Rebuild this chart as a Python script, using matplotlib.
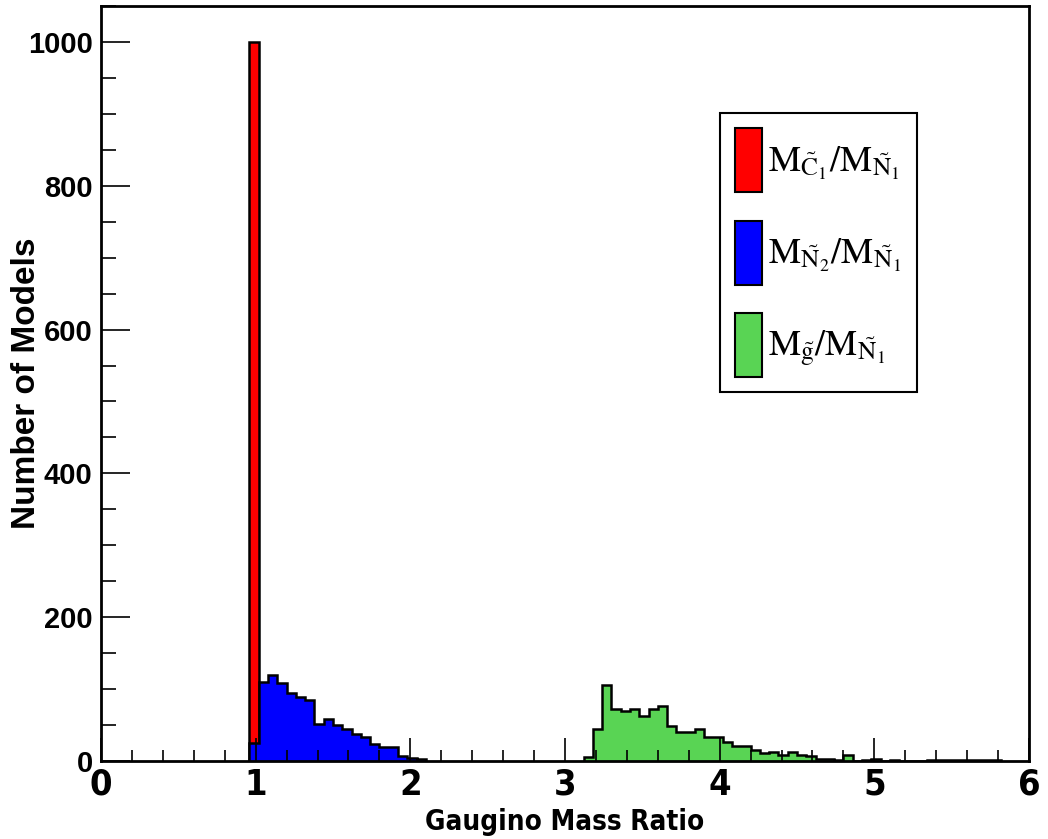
# Gaugino mass ratio histograms (ROOT style)

import matplotlib
matplotlib.use('Agg')
import matplotlib.pyplot as plt
from matplotlib.patches import Patch
from matplotlib.ticker import MultipleLocator
import numpy as np

plt.rcParams['mathtext.fontset'] = 'stix'

# histogram data: 100 bins on [0,6], width 0.06
bin_width = 0.06

red_start = 0.96
red_counts = [1000]

blue_start = 0.96
blue_counts = [25, 110, 120, 108, 94, 89, 85, 51, 58, 50, 45, 37, 33, 24, 20, 20,
               7, 4, 3]

green_start = 3.12
green_counts = [5, 45, 106, 72, 70, 73, 63, 72, 77, 48, 41, 41, 44, 34, 34, 26,
                21, 21, 15, 11, 13, 9, 13, 9, 7, 3, 3, 1, 9, 0, 1, 3, 0, 1, 0,
                0, 0, 1, 1, 1, 1, 1, 1, 1, 1]

labels = [r'$\mathrm{M}_{\tilde{\mathrm{C}}_1}/\mathrm{M}_{\tilde{\mathrm{N}}_1}$',
          r'$\mathrm{M}_{\tilde{\mathrm{N}}_2}/\mathrm{M}_{\tilde{\mathrm{N}}_1}$',
          r'$\mathrm{M}_{\tilde{\mathrm{g}}}/\mathrm{M}_{\tilde{\mathrm{N}}_1}$']
colors = ['#ff0000', '#0000ff', '#59d454']

x_ticks = [0, 1, 2, 3, 4, 5, 6]
y_ticks = [0, 200, 400, 600, 800, 1000]

narrow = ['DejaVu Sans']
normal = ['Liberation Sans', 'DejaVu Sans']

fig = plt.figure(figsize=(10.48, 8.39), dpi=100)
ax = fig.add_axes([101/1048, 1-761/839, 928/1048, 755/839])

def edges(start, counts):
	return start + bin_width*np.arange(len(counts)+1)

for start, counts, col in [(red_start, red_counts, colors[0]),
                           (blue_start, blue_counts, colors[1]),
                           (green_start, green_counts, colors[2])]:
	ax.stairs(counts, edges(start, counts), fill=True, facecolor=col,
	          edgecolor='black', linewidth=1.8)

ax.set_xlim(0, 6)
ax.set_ylim(0, 1050)

ax.set_xticks(x_ticks)
ax.set_yticks(y_ticks)
ax.xaxis.set_minor_locator(MultipleLocator(0.2))
ax.yaxis.set_minor_locator(MultipleLocator(50))
ax.tick_params(axis='x', which='major', direction='in', length=16.5, width=1.2, pad=5)
ax.tick_params(axis='x', which='minor', direction='in', length=8, width=1.2)
ax.tick_params(axis='y', which='major', direction='in', length=21, width=1.2, pad=6)
ax.tick_params(axis='y', which='minor', direction='in', length=10.5, width=1.2)
for spine in ax.spines.values():
	spine.set_linewidth(2)

for t in ax.get_xticklabels():
	t.set_family(narrow)
	t.set_fontstretch('condensed')
	t.set_fontweight('bold')
	t.set_fontsize(26)
for t in ax.get_yticklabels():
	t.set_family(normal)
	t.set_fontweight('bold')
	t.set_fontsize(21)

ax.set_xlabel('Gaugino Mass Ratio', family=narrow, fontstretch='condensed',
              fontweight='bold', fontsize=20, labelpad=4)
ax.set_ylabel('Number of Models', family=normal, fontweight='bold', fontsize=24)
ax.yaxis.set_label_coords(-0.064, 0.5)

handles = [Patch(facecolor=c, edgecolor='black', linewidth=1.5) for c in colors]
leg = ax.legend(handles, labels, loc='upper left', bbox_to_anchor=(0.667, 0.858),
                borderaxespad=0, fontsize=26, handlelength=0.75, handleheight=2.35,
                labelspacing=0.78, borderpad=0.42, handletextpad=0.17,
                fancybox=False, framealpha=1, edgecolor='black')
leg.get_frame().set_linewidth(1.5)

fig.savefig('out.png', dpi=100)
